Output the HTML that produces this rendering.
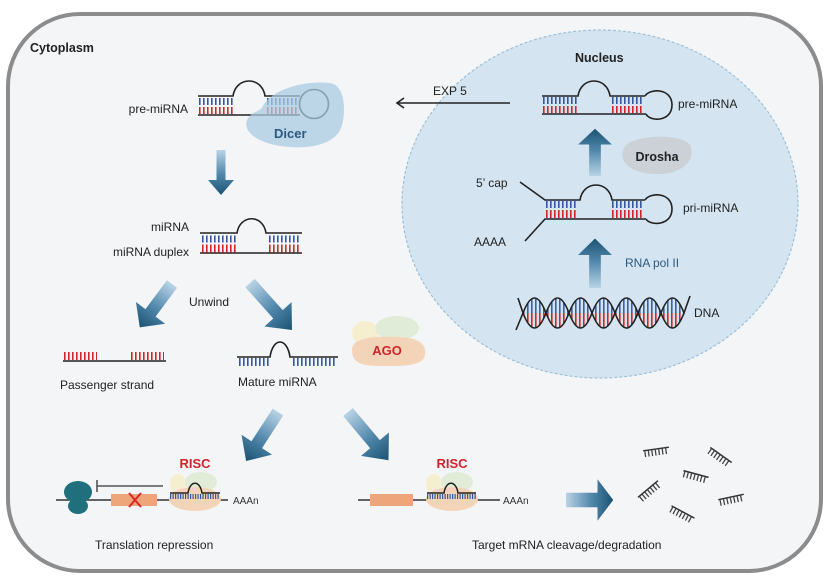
<!DOCTYPE html>
<html><head><meta charset="utf-8"><style>
html,body{margin:0;padding:0;background:#fff}
svg{display:block}
text{font-family:"Liberation Sans",sans-serif}
</style></head><body>
<svg width="830" height="581" viewBox="0 0 830 581" xmlns="http://www.w3.org/2000/svg">
<defs>
<linearGradient id="ag" x1="0" y1="0" x2="0" y2="1">
<stop offset="0" stop-color="#b9d3e6"/><stop offset="0.55" stop-color="#4f86aa"/><stop offset="1" stop-color="#1b5373"/>
</linearGradient>
<g id="arr"><polygon points="-4.5,0 4.5,0 4.5,30 13,30 0,45 -13,30 -4.5,30" fill="url(#ag)"/></g>
<clipPath id="dnaclip">
<path d="M523,313 q11.5,-30 23,0 t23,0 t23,0 t23,0 t23,0 t23,0 t23,0 Z M523,313 q11.5,30 23,0 t23,0 t23,0 t23,0 t23,0 t23,0 t23,0 Z"/>
</clipPath>
<g id="frag"><line x1="-13" y1="0" x2="13" y2="0" stroke="#333" stroke-width="1.5"/><line x1="-12" y1="3.5" x2="12" y2="3.5" stroke="#444" stroke-width="6" stroke-dasharray="1.3 2.2"/></g>
</defs>

<rect x="8" y="14" width="813" height="557" rx="72" fill="#f4f5f7" stroke="#8c8c8c" stroke-width="4"/>

<!-- Nucleus -->
<ellipse cx="600" cy="204" rx="198" ry="174" fill="#d4e4f0" stroke="#9cc0d9" stroke-width="1.2" stroke-dasharray="3 2"/>
<text x="575" y="62" font-size="12.5" font-weight="bold" fill="#222">Nucleus</text>

<text x="30" y="52" font-size="12.5" font-weight="bold" fill="#222">Cytoplasm</text>

<!-- cyto pre-miRNA -->
<g fill="none" stroke="#222" stroke-width="1.6">
<path d="M198,96 H233 C236,76 262,76 265,96 H300 M198,115 H300"/>
<circle cx="314" cy="104" r="14.5"/>
</g>
<line x1="199" y1="101.5" x2="233" y2="101.5" stroke="#3556a0" stroke-width="7" stroke-dasharray="1.6 2.4"/>
<line x1="199" y1="110.5" x2="233" y2="110.5" stroke="#d0242a" stroke-width="7" stroke-dasharray="1.6 2.4"/>
<line x1="267" y1="101.5" x2="298" y2="101.5" stroke="#3556a0" stroke-width="7" stroke-dasharray="1.6 2.4"/>
<line x1="267" y1="110.5" x2="298" y2="110.5" stroke="#d0242a" stroke-width="7" stroke-dasharray="1.6 2.4"/>
<path d="M262,108 C268,92 300,80 330,83 C345,85 346,110 342,125 C338,142 315,149 290,147 C260,145 240,132 248,118 C252,112 258,112 262,108 Z" fill="#a9c9e1" fill-opacity="0.75"/>
<text x="274" y="138" font-size="13" font-weight="bold" fill="#2c5a80">Dicer</text>
<text x="188" y="113" font-size="12" text-anchor="end" fill="#222">pre-miRNA</text>

<use href="#arr" transform="translate(221,150)"/>

<!-- duplex -->
<g fill="none" stroke="#222" stroke-width="1.6">
<path d="M200,233 H237 C240,214 263,214 266,233 H302 M200,253 H302"/>
</g>
<line x1="202" y1="239" x2="237" y2="239" stroke="#3556a0" stroke-width="7" stroke-dasharray="1.6 2.4"/>
<line x1="202" y1="248.5" x2="237" y2="248.5" stroke="#d0242a" stroke-width="8" stroke-dasharray="1.6 2.4"/>
<line x1="269" y1="239" x2="300" y2="239" stroke="#3556a0" stroke-width="7" stroke-dasharray="1.6 2.4"/>
<line x1="269" y1="248.5" x2="300" y2="248.5" stroke="#d0242a" stroke-width="8" stroke-dasharray="1.6 2.4"/>
<text x="189" y="231" font-size="12" text-anchor="end" fill="#222">miRNA</text>
<text x="189" y="256" font-size="12" text-anchor="end" fill="#222">miRNA duplex</text>

<use href="#arr" transform="translate(172,284) rotate(36.6) scale(1.4,1.2)"/>
<use href="#arr" transform="translate(250,283) rotate(-41.8) scale(1.4,1.4)"/>
<text x="189" y="306" font-size="12" fill="#222">Unwind</text>

<!-- passenger -->
<line x1="63" y1="361" x2="166" y2="361" stroke="#222" stroke-width="1.6"/>
<line x1="64" y1="356" x2="97" y2="356" stroke="#d0242a" stroke-width="8" stroke-dasharray="1.6 2.4"/>
<line x1="131" y1="356" x2="164" y2="356" stroke="#d0242a" stroke-width="8" stroke-dasharray="1.6 2.4"/>
<text x="60" y="389" font-size="12" fill="#222">Passenger strand</text>

<!-- mature -->
<path d="M237,357 H270 C273,337 287,337 290,357 H338" fill="none" stroke="#222" stroke-width="1.6"/>
<line x1="239" y1="362" x2="270" y2="362" stroke="#3556a0" stroke-width="8" stroke-dasharray="1.6 2.4"/>
<line x1="293" y1="362" x2="336" y2="362" stroke="#3556a0" stroke-width="8" stroke-dasharray="1.6 2.4"/>
<text x="238" y="386" font-size="12" fill="#222">Mature miRNA</text>

<!-- AGO -->
<ellipse cx="365" cy="333" rx="13" ry="12" fill="#f6efcf"/>
<ellipse cx="397" cy="328" rx="22" ry="12" fill="#e0ecd7"/>
<path d="M352,350 C352,337 375,336 400,337 C420,338 427,345 425,355 C423,367 400,366 380,366 C360,366 352,362 352,350 Z" fill="#f4d4b9"/>
<text x="387" y="355" font-size="13" font-weight="bold" fill="#d0242a" text-anchor="middle">AGO</text>

<use href="#arr" transform="translate(278,412) rotate(33) scale(1.4,1.3)"/>
<use href="#arr" transform="translate(348,412) rotate(-40) scale(1.4,1.4)"/>

<!-- translation repression -->
<line x1="56" y1="500" x2="228" y2="500" stroke="#333" stroke-width="1.6"/>
<ellipse cx="78" cy="492" rx="14" ry="11" fill="#1f6f7d"/>
<ellipse cx="78" cy="506" rx="10" ry="8" fill="#1f6f7d"/>
<path d="M97,480 V492 M97,486 H163" stroke="#555" stroke-width="1.6" fill="none"/>
<rect x="111" y="494" width="46" height="12" fill="#eea57a"/>
<path d="M129,493 L141,507 M141,493 L129,507" stroke="#d62a2a" stroke-width="2"/>
<ellipse cx="178" cy="484" rx="8" ry="10" fill="#f6efcf"/>
<ellipse cx="201" cy="482" rx="16" ry="10" fill="#e0ecd7"/>
<ellipse cx="195" cy="499" rx="26" ry="12" fill="#f4d4b9"/>
<path d="M170,493 H188 C190,480 200,480 202,493 H220" fill="none" stroke="#222" stroke-width="1.5"/>
<line x1="170" y1="496.5" x2="219" y2="496.5" stroke="#3556a0" stroke-width="5" stroke-dasharray="1.2 1.3"/>
<text x="195" y="468" font-size="13" font-weight="bold" fill="#d0242a" text-anchor="middle">RISC</text>
<text x="233" y="504" font-size="10" fill="#333">AAAn</text>
<text x="95" y="549" font-size="12" fill="#222">Translation repression</text>

<!-- cleavage -->
<line x1="358" y1="500" x2="500" y2="500" stroke="#333" stroke-width="1.6"/>
<rect x="370" y="494" width="43" height="12" fill="#eea57a"/>
<ellipse cx="434" cy="484" rx="8" ry="10" fill="#f6efcf"/>
<ellipse cx="457" cy="482" rx="16" ry="10" fill="#e0ecd7"/>
<ellipse cx="452" cy="499" rx="26" ry="12" fill="#f4d4b9"/>
<path d="M427,493 H444 C446,480 456,480 458,493 H476" fill="none" stroke="#222" stroke-width="1.5"/>
<line x1="427" y1="496.5" x2="476" y2="496.5" stroke="#3556a0" stroke-width="5" stroke-dasharray="1.2 1.3"/>
<text x="452" y="468" font-size="13" font-weight="bold" fill="#d0242a" text-anchor="middle">RISC</text>
<text x="503" y="504" font-size="10" fill="#333">AAAn</text>
<use href="#arr" transform="translate(566,500) rotate(-90) scale(1.6,1.05)"/>
<text x="472" y="549" font-size="12" fill="#222">Target mRNA cleavage/degradation</text>

<use href="#frag" transform="translate(656,449) rotate(-8)"/>
<use href="#frag" transform="translate(721,455) rotate(35)"/>
<use href="#frag" transform="translate(696,474) rotate(15)"/>
<use href="#frag" transform="translate(648,489) rotate(-40)"/>
<use href="#frag" transform="translate(731,497) rotate(-12)"/>
<use href="#frag" transform="translate(683,512) rotate(28)"/>

<!-- EXP5 -->
<text x="433" y="95" font-size="12" fill="#222">EXP 5</text>
<line x1="510" y1="103" x2="398" y2="103" stroke="#222" stroke-width="1.6"/>
<path d="M404,98 L397,103 L404,108" fill="none" stroke="#222" stroke-width="1.6"/>

<!-- nucleus pre-miRNA -->
<g fill="none" stroke="#222" stroke-width="1.6">
<path d="M542,96 H578 C581,76 607,76 610,96 H645 M542,114 H646"/>
<path d="M645,96 C650,88 672,88 672,105 C672,122 650,122 646,114"/>
</g>
<line x1="543" y1="100.5" x2="577" y2="100.5" stroke="#3556a0" stroke-width="7" stroke-dasharray="1.6 2.4"/>
<line x1="543" y1="109.5" x2="577" y2="109.5" stroke="#d0242a" stroke-width="7" stroke-dasharray="1.6 2.4"/>
<line x1="612" y1="100.5" x2="643" y2="100.5" stroke="#3556a0" stroke-width="7" stroke-dasharray="1.6 2.4"/>
<line x1="612" y1="109.5" x2="643" y2="109.5" stroke="#d0242a" stroke-width="7" stroke-dasharray="1.6 2.4"/>
<text x="678" y="108" font-size="12" fill="#222">pre-miRNA</text>

<use href="#arr" transform="translate(595,176) rotate(180) scale(1.3,1.05)"/>
<path d="M624,148 C630,135 680,132 690,145 C697,160 682,175 655,174 C628,173 618,160 624,148 Z" fill="#ccd1d7"/>
<text x="657" y="161" font-size="12.5" font-weight="bold" fill="#222" text-anchor="middle">Drosha</text>

<!-- pri-miRNA -->
<g fill="none" stroke="#222" stroke-width="1.6">
<path d="M520,182 L545,200 H580 C583,180 609,180 612,200 H645 M525,241 L545,219 H646"/>
<path d="M645,200 C650,192 672,192 672,209 C672,226 650,226 646,219"/>
</g>
<line x1="546" y1="204.5" x2="578" y2="204.5" stroke="#3556a0" stroke-width="7" stroke-dasharray="1.6 2.4"/>
<line x1="546" y1="214" x2="578" y2="214" stroke="#d0242a" stroke-width="8" stroke-dasharray="1.6 2.4"/>
<line x1="612" y1="204.5" x2="643" y2="204.5" stroke="#3556a0" stroke-width="7" stroke-dasharray="1.6 2.4"/>
<line x1="612" y1="214" x2="643" y2="214" stroke="#d0242a" stroke-width="8" stroke-dasharray="1.6 2.4"/>
<text x="476" y="187" font-size="12" fill="#222">5’ cap</text>
<text x="474" y="246" font-size="12" fill="#222">AAAA</text>
<text x="683" y="212" font-size="12" fill="#222">pri-miRNA</text>

<use href="#arr" transform="translate(595,288) rotate(180) scale(1.3,1.1)"/>
<text x="625" y="267" font-size="12" fill="#2c5a80">RNA pol II</text>

<!-- DNA -->
<g clip-path="url(#dnaclip)">
<line x1="523" y1="305" x2="684" y2="305" stroke="#3a5fa8" stroke-width="16" stroke-dasharray="1.6 2.4"/>
<line x1="523" y1="321" x2="684" y2="321" stroke="#d0242a" stroke-width="16" stroke-dasharray="1.6 2.4"/>
</g>
<g fill="none" stroke="#222" stroke-width="1.6">
<path d="M516,330 L523,313 q11.5,-30 23,0 t23,0 t23,0 t23,0 t23,0 t23,0 t23,0 L690,296"/>
<path d="M518,298 L523,313 q11.5,30 23,0 t23,0 t23,0 t23,0 t23,0 t23,0 t23,0"/>
</g>
<text x="694" y="317" font-size="12" fill="#222">DNA</text>
</svg>
</body></html>
